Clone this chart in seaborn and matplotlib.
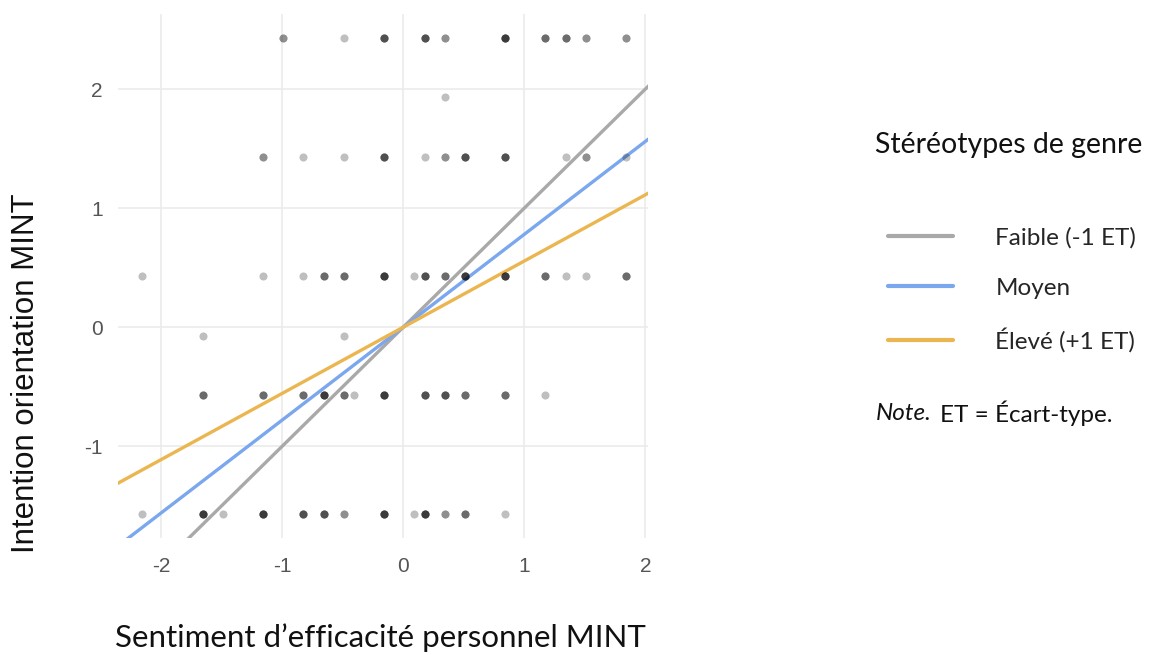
import numpy as np
import pandas as pd
import matplotlib
matplotlib.use("Agg")
import matplotlib.pyplot as plt
import seaborn as sns
from matplotlib.lines import Line2D

# ---------------- data ----------------
# observed points (x, y) with the number of overlapping observations
row_2_43_x = [-0.99, -0.49, -0.157, 0.176, 0.345, 0.843, 1.174, 1.341, 1.51, 1.84]
row_2_43_n = [2, 1, 4, 4, 2, 5, 3, 3, 2, 2]
row_1_93_x = [0.345]
row_1_93_n = [1]
row_1_43_x = [-1.157, -0.824, -0.49, -0.157, 0.176, 0.345, 0.51, 0.843, 1.341, 1.51, 1.84]
row_1_43_n = [2, 1, 1, 4, 1, 2, 4, 4, 1, 2, 1]
row_0_43_x = [-2.157, -1.157, -0.824, -0.657, -0.49, -0.157, 0.093, 0.176, 0.345, 0.51, 0.843, 1.174, 1.341, 1.51, 1.84]
row_0_43_n = [1, 1, 1, 3, 3, 5, 1, 4, 3, 5, 5, 3, 1, 1, 3]
row_m0_07_x = [-1.657, -0.49]
row_m0_07_n = [1, 1]
row_m0_57_x = [-1.657, -1.157, -0.824, -0.657, -0.49, -0.407, -0.157, 0.176, 0.345, 0.51, 0.843, 1.174]
row_m0_57_n = [3, 3, 3, 5, 3, 1, 5, 4, 4, 3, 3, 1]
row_m1_57_x = [-2.157, -1.657, -1.49, -1.157, -0.824, -0.657, -0.49, -0.157, 0.093, 0.176, 0.345, 0.51, 0.843]
row_m1_57_n = [1, 5, 1, 5, 4, 4, 2, 5, 1, 5, 2, 3, 1]

row_y = [2.43, 1.93, 1.43, 0.43, -0.07, -0.57, -1.57]
rows_x = [row_2_43_x, row_1_93_x, row_1_43_x, row_0_43_x, row_m0_07_x, row_m0_57_x, row_m1_57_x]
rows_n = [row_2_43_n, row_1_93_n, row_1_43_n, row_0_43_n, row_m0_07_n, row_m0_57_n, row_m1_57_n]

# simple slopes for the three moderator levels
groups = ["Faible (-1 ET)", "Moyen", "Élevé (+1 ET)"]
slopes = [1.00, 0.78, 0.556]
intercepts = [0.0, 0.0, 0.0]
x_range = [-2.36, 2.03]

x_ticks = [-2, -1, 0, 1, 2]
y_ticks = [-1, 0, 1, 2]

# ---------------- build tables ----------------
pts = []
for y, xs, ns in zip(row_y, rows_x, rows_n):
    for x, n in zip(xs, ns):
        for _ in range(n):
            pts.append((x, y))
df_pts = pd.DataFrame(pts, columns=["x", "y"])

line_rows = []
for g, b, a in zip(groups, slopes, intercepts):
    for x in x_range:
        line_rows.append((g, x, a + b * x))
df_lines = pd.DataFrame(line_rows, columns=["group", "x", "y"])

colors = {"Faible (-1 ET)": "#a9a9a9", "Moyen": "#7aa7ee", "Élevé (+1 ET)": "#ebb650"}

# ---------------- plot ----------------
sns.set_theme(style="whitegrid")
plt.rcParams["font.family"] = ["Liberation Sans", "DejaVu Sans"]

fig = plt.figure(figsize=(11.63, 6.55), dpi=100)
ax = fig.add_axes([0.1015, 0.1786, 0.4555, 0.80])

sns.lineplot(data=df_lines, x="x", y="y", hue="group", palette=colors,
             hue_order=groups, linewidth=2.4, ax=ax, legend=False, zorder=2)
sns.scatterplot(data=df_pts, x="x", y="y", color="black", alpha=0.25,
                s=34, linewidth=0, ax=ax, zorder=3)

ax.set_xlim(-2.355, 2.02)
ax.set_ylim(-1.77, 2.63)
ax.set_xticks(x_ticks)
ax.set_yticks(y_ticks)
ax.set_xticklabels([str(t) for t in x_ticks])
ax.set_yticklabels([str(t) for t in y_ticks])
ax.grid(True, color="#ebebeb", linewidth=1.2)
for s in ax.spines.values():
    s.set_visible(False)
ax.tick_params(axis="both", length=0, labelsize=15, colors="#555555")
ax.tick_params(axis="y", pad=11)
ax.tick_params(axis="x", pad=14)
ax.set_xlabel("")
ax.set_ylabel("")

fig.text(380 / 1163, 1 - 638 / 655, "Sentiment d\u2019efficacité personnel MINT",
         family=["Lato", "DejaVu Sans"], fontsize=22.5, color="#111111",
         ha="center", va="center")
fig.text(26 / 1163, 1 - 373 / 655, "Intention orientation MINT",
         family=["Liberation Sans", "DejaVu Sans"], fontsize=22.5, color="#111111",
         ha="center", va="center", rotation=90)

# legend
lato = ["Lato", "DejaVu Sans"]
handles = [Line2D([0], [0], color=colors[g], linewidth=3) for g in groups]
leg = fig.legend(handles, groups, loc="upper left", bbox_to_anchor=(0.745, 0.687),
                 frameon=False, prop={"family": lato, "size": 17.5},
                 handlelength=2.65, handletextpad=1.75, labelspacing=1.2)
fig.text(875 / 1163, 1 - 145 / 655, "Stéréotypes de genre", family=lato,
         fontsize=20.5, color="#111111", va="center", ha="left")
fig.text(876 / 1163, 1 - 413 / 655, "Note.", family=lato, style="italic",
         fontsize=17.5, va="center", ha="left", color="#111111")
fig.text(940 / 1163, 1 - 413 / 655, "ET = Écart-type.", family=lato, fontsize=17.5,
         va="center", ha="left", color="#111111")

fig.savefig("out.png", dpi=100)
